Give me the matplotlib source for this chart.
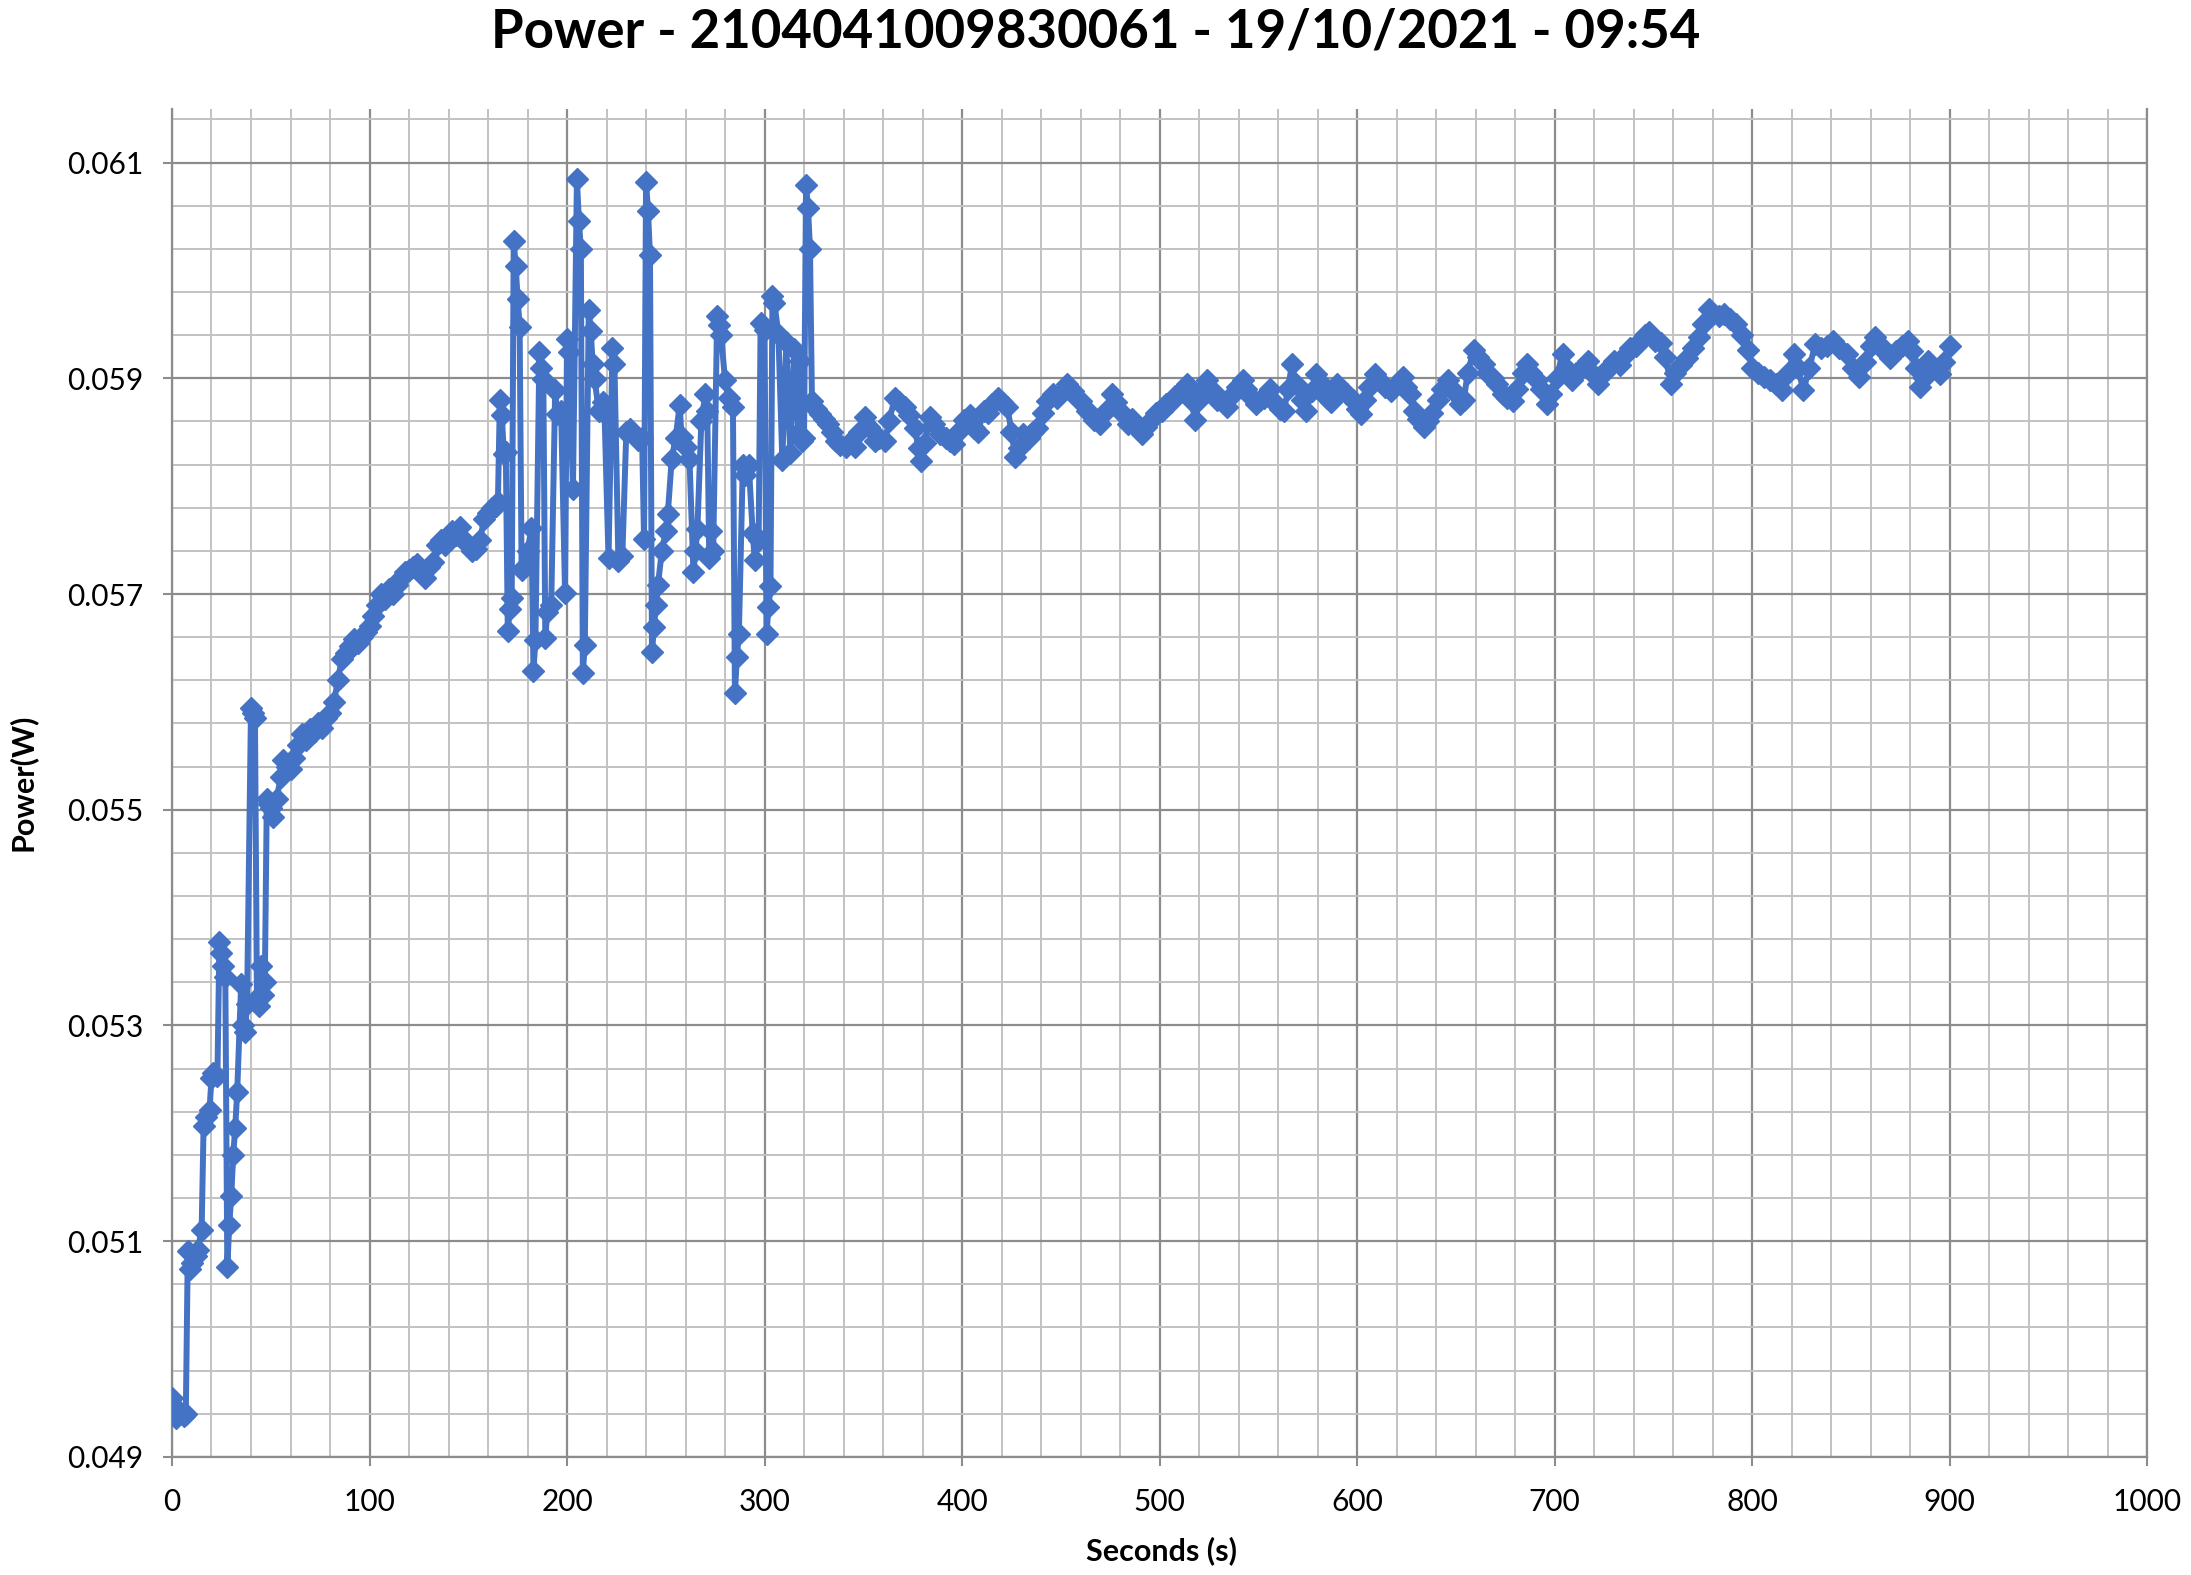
import matplotlib.pyplot as plt
from matplotlib.ticker import MultipleLocator, FormatStrFormatter
import numpy as np

# warm-up segment (0-165 s)
warmup_s = [0, 2, 4, 6, 7, 8, 9, 10, 12, 13, 15, 16, 17, 19, 20, 21, 23, 24, 25, 26,
            27, 28, 29, 30, 31, 32, 33, 35, 36, 37, 38, 40, 41, 42, 43, 44, 45, 46, 47, 48,
            49, 50, 51, 53, 55, 56, 58, 60, 62, 64, 66, 68, 70, 72, 74, 76, 78, 80, 82, 84,
            86, 88, 90, 92, 94, 96, 98, 100, 102, 104, 106, 108, 110, 112, 114, 116, 118, 120, 122, 124,
            126, 128, 130, 132, 134, 136, 138, 140, 142, 144, 146, 148, 150, 152, 154, 156, 158, 160, 162, 164,
            165]
warmup_w = [0.04955, 0.04936, 0.04942, 0.04938, 0.04940, 0.05091, 0.05074, 0.05080, 0.05086, 0.05092,
            0.05110, 0.05207, 0.05215, 0.05222, 0.05251, 0.05256, 0.05253, 0.05377, 0.05367, 0.05355,
            0.05345, 0.05076, 0.05115, 0.05142, 0.05180, 0.05205, 0.05238, 0.05338, 0.05300, 0.05294,
            0.05320, 0.05594, 0.05590, 0.05585, 0.05325, 0.05318, 0.05355, 0.05328, 0.05340, 0.05510,
            0.05505, 0.05502, 0.05493, 0.05510, 0.05530, 0.05546, 0.05540, 0.05538, 0.05548, 0.05560,
            0.05570, 0.05565, 0.05575, 0.05572, 0.05580, 0.05576, 0.05585, 0.05590, 0.05600, 0.05620,
            0.05640, 0.05645, 0.05652, 0.05658, 0.05655, 0.05660, 0.05665, 0.05670, 0.05680, 0.05690,
            0.05700, 0.05695, 0.05705, 0.05700, 0.05708, 0.05715, 0.05720, 0.05722, 0.05725, 0.05728,
            0.05720, 0.05715, 0.05725, 0.05730, 0.05745, 0.05750, 0.05745, 0.05752, 0.05758, 0.05755,
            0.05762, 0.05750, 0.05745, 0.05740, 0.05742, 0.05750, 0.05770, 0.05775, 0.05780, 0.05782,
            0.05785]

# unstable segment (166-323 s)
unstable_s = [166, 167, 168, 169, 170, 171, 172, 173, 174, 175, 176, 177, 178, 180, 182, 183, 184, 186, 187, 188,
              189, 190, 192, 194, 195, 197, 199, 200, 201, 203, 205, 206, 207, 208, 209, 211, 212, 213, 214, 216,
              218, 219, 221, 223, 224, 226, 228, 230, 232, 234, 236, 238, 239, 240, 241, 242, 243, 244, 245, 246,
              248, 250, 251, 253, 255, 257, 258, 260, 262, 264, 265, 266, 268, 270, 271, 272, 273, 274, 276, 277,
              278, 280, 282, 284, 285, 286, 287, 289, 290, 292, 294, 295, 297, 298, 300, 301, 302, 303, 304, 305,
              307, 309, 311, 313, 315, 317, 318, 319, 320, 321, 322, 323]
unstable_w = [0.05880, 0.05866, 0.05830, 0.05832, 0.05666, 0.05686, 0.05696, 0.06027, 0.06004, 0.05974,
              0.05948, 0.05722, 0.05725, 0.05740, 0.05761, 0.05629, 0.05657, 0.05924, 0.05910, 0.05899,
              0.05659, 0.05683, 0.05690, 0.05889, 0.05867, 0.05870, 0.05701, 0.05936, 0.05924, 0.05797,
              0.06085, 0.06046, 0.06020, 0.05627, 0.05653, 0.05963, 0.05944, 0.05913, 0.05899, 0.05870,
              0.05878, 0.05867, 0.05733, 0.05928, 0.05913, 0.05731, 0.05735, 0.05850, 0.05853, 0.05848,
              0.05843, 0.05845, 0.05751, 0.06082, 0.06055, 0.06014, 0.05646, 0.05669, 0.05690, 0.05708,
              0.05740, 0.05758, 0.05774, 0.05825, 0.05845, 0.05875, 0.05846, 0.05836, 0.05825, 0.05720,
              0.05740, 0.05760, 0.05860, 0.05885, 0.05870, 0.05733, 0.05758, 0.05740, 0.05958, 0.05949,
              0.05940, 0.05898, 0.05882, 0.05873, 0.05608, 0.05642, 0.05663, 0.05820, 0.05810, 0.05820,
              0.05757, 0.05732, 0.05750, 0.05951, 0.05945, 0.05663, 0.05688, 0.05707, 0.05976, 0.05970,
              0.05941, 0.05824, 0.05934, 0.05831, 0.05927, 0.05849, 0.05916, 0.05842, 0.05845, 0.06079,
              0.06058, 0.06020]

# steady segment (324-900 s)
steady_s = [324, 326, 328, 330, 332, 334, 336, 338, 341, 343, 346, 348, 351, 353, 356, 358, 361, 363, 366, 368,
            371, 373, 376, 378, 379, 381, 384, 386, 389, 392, 394, 396, 398, 401, 404, 406, 408, 411, 413, 415,
            418, 420, 423, 425, 427, 429, 431, 434, 436, 438, 441, 443, 446, 448, 451, 453, 456, 458, 460, 463,
            465, 467, 470, 473, 476, 478, 481, 484, 486, 488, 491, 493, 496, 498, 501, 503, 506, 508, 511, 514,
            516, 518, 520, 522, 524, 527, 529, 532, 534, 537, 539, 542, 544, 547, 549, 551, 553, 556, 558, 561,
            563, 565, 567, 569, 572, 574, 577, 579, 582, 585, 587, 590, 592, 595, 598, 600, 602, 604, 606, 609,
            611, 614, 617, 620, 623, 625, 627, 629, 631, 634, 636, 638, 641, 643, 646, 648, 650, 652, 654, 656,
            659, 661, 664, 666, 669, 671, 674, 676, 679, 681, 684, 686, 688, 691, 693, 696, 698, 701, 704, 706,
            709, 711, 714, 717, 719, 722, 725, 727, 730, 733, 736, 738, 741, 743, 746, 748, 751, 754, 756, 759,
            761, 764, 767, 770, 773, 775, 778, 780, 783, 786, 789, 792, 795, 798, 800, 803, 806, 809, 812, 815,
            818, 821, 823, 826, 829, 832, 835, 838, 841, 844, 848, 851, 854, 857, 860, 862, 865, 867, 870, 873,
            876, 879, 881, 883, 885, 887, 889, 892, 895, 897, 900]
steady_w = [0.05879, 0.05872, 0.05867, 0.05862, 0.05858, 0.05850, 0.05842, 0.05838, 0.05836, 0.05840,
            0.05836, 0.05850, 0.05864, 0.05855, 0.05842, 0.05845, 0.05842, 0.05860, 0.05882, 0.05878,
            0.05873, 0.05866, 0.05854, 0.05835, 0.05823, 0.05840, 0.05864, 0.05858, 0.05848, 0.05845,
            0.05842, 0.05839, 0.05850, 0.05861, 0.05866, 0.05854, 0.05850, 0.05870, 0.05868, 0.05876,
            0.05882, 0.05878, 0.05873, 0.05850, 0.05827, 0.05835, 0.05848, 0.05845, 0.05850, 0.05854,
            0.05868, 0.05879, 0.05885, 0.05882, 0.05888, 0.05895, 0.05888, 0.05882, 0.05879, 0.05870,
            0.05868, 0.05861, 0.05858, 0.05870, 0.05885, 0.05878, 0.05868, 0.05858, 0.05862, 0.05855,
            0.05848, 0.05855, 0.05862, 0.05868, 0.05870, 0.05876, 0.05878, 0.05884, 0.05888, 0.05895,
            0.05880, 0.05861, 0.05880, 0.05890, 0.05898, 0.05888, 0.05880, 0.05878, 0.05873, 0.05885,
            0.05892, 0.05898, 0.05890, 0.05882, 0.05876, 0.05880, 0.05882, 0.05890, 0.05878, 0.05872,
            0.05870, 0.05890, 0.05913, 0.05895, 0.05880, 0.05870, 0.05888, 0.05904, 0.05895, 0.05882,
            0.05878, 0.05895, 0.05890, 0.05885, 0.05880, 0.05872, 0.05867, 0.05880, 0.05892, 0.05904,
            0.05898, 0.05892, 0.05888, 0.05895, 0.05901, 0.05892, 0.05885, 0.05870, 0.05862, 0.05855,
            0.05860, 0.05868, 0.05880, 0.05890, 0.05898, 0.05890, 0.05885, 0.05876, 0.05880, 0.05905,
            0.05926, 0.05920, 0.05913, 0.05905, 0.05900, 0.05895, 0.05885, 0.05882, 0.05879, 0.05890,
            0.05905, 0.05913, 0.05905, 0.05898, 0.05890, 0.05876, 0.05885, 0.05900, 0.05923, 0.05910,
            0.05898, 0.05905, 0.05910, 0.05916, 0.05905, 0.05895, 0.05905, 0.05910, 0.05916, 0.05912,
            0.05923, 0.05928, 0.05930, 0.05935, 0.05940, 0.05943, 0.05935, 0.05933, 0.05920, 0.05895,
            0.05905, 0.05912, 0.05919, 0.05928, 0.05938, 0.05950, 0.05964, 0.05960, 0.05958, 0.05960,
            0.05955, 0.05950, 0.05940, 0.05926, 0.05910, 0.05905, 0.05901, 0.05898, 0.05895, 0.05889,
            0.05905, 0.05923, 0.05910, 0.05889, 0.05910, 0.05932, 0.05928, 0.05930, 0.05935, 0.05928,
            0.05923, 0.05910, 0.05901, 0.05915, 0.05930, 0.05938, 0.05930, 0.05925, 0.05919, 0.05925,
            0.05930, 0.05935, 0.05925, 0.05910, 0.05892, 0.05900, 0.05916, 0.05910, 0.05904, 0.05915,
            0.05930]

y_major = [0.049, 0.051, 0.053, 0.055, 0.057, 0.059, 0.061]

seconds = np.array(warmup_s + unstable_s + steady_s)
power = np.array(warmup_w + unstable_w + steady_w)

title = 'Power - 2104041009830061 - 19/10/2021 - 09:54'
font = 'Lato'

fig = plt.figure(figsize=(21.91, 15.75), dpi=100)
ax = fig.add_axes([0.0785, 0.075, 0.9015, 0.856])

ax.plot(seconds, power, color='#4472C4', linewidth=4.3, marker='D', markersize=11,
        markeredgecolor='#4472C4', zorder=3)

ax.set_xlim(0, 1000)
ax.set_ylim(0.049, 0.0615)
ax.xaxis.set_major_locator(MultipleLocator(100))
ax.xaxis.set_minor_locator(MultipleLocator(20))
ax.set_yticks(y_major)
ax.set_yticks(np.arange(32) * 0.0004 + 0.049, minor=True)
ax.yaxis.set_major_formatter(FormatStrFormatter('%.3f'))

ax.grid(which='major', color='#8c8c8c', linewidth=1.6, zorder=0)
ax.grid(which='minor', color='#c2c2c2', linewidth=1.4, zorder=0)
ax.set_axisbelow(True)

ax.tick_params(which='major', length=6.5, width=1.5, color='#8c8c8c', labelsize=21.5)
ax.tick_params(axis='y', which='major', pad=14)
ax.tick_params(axis='x', which='major', pad=16)
ax.tick_params(which='minor', length=0)
for lab in ax.get_xticklabels() + ax.get_yticklabels():
    lab.set_fontfamily(font)

ax.spines['top'].set_visible(False)
for side in ['left', 'bottom', 'right']:
    ax.spines[side].set_color('#8c8c8c')
    ax.spines[side].set_linewidth(1.6)

fig.text(0.5, 0.980, title, ha='center', va='center', fontsize=38,
         fontweight='bold', fontfamily=font)
fig.text(0.5300, 0.0152, 'Seconds (s)', ha='center', va='center', fontsize=22,
         fontweight='bold', fontfamily=font)
fig.text(0.0100, 0.503, 'Power(W)', ha='center', va='center', rotation=90,
         fontsize=22, fontweight='bold', fontfamily=font)

plt.savefig('out.png', dpi=100)
plt.close()
